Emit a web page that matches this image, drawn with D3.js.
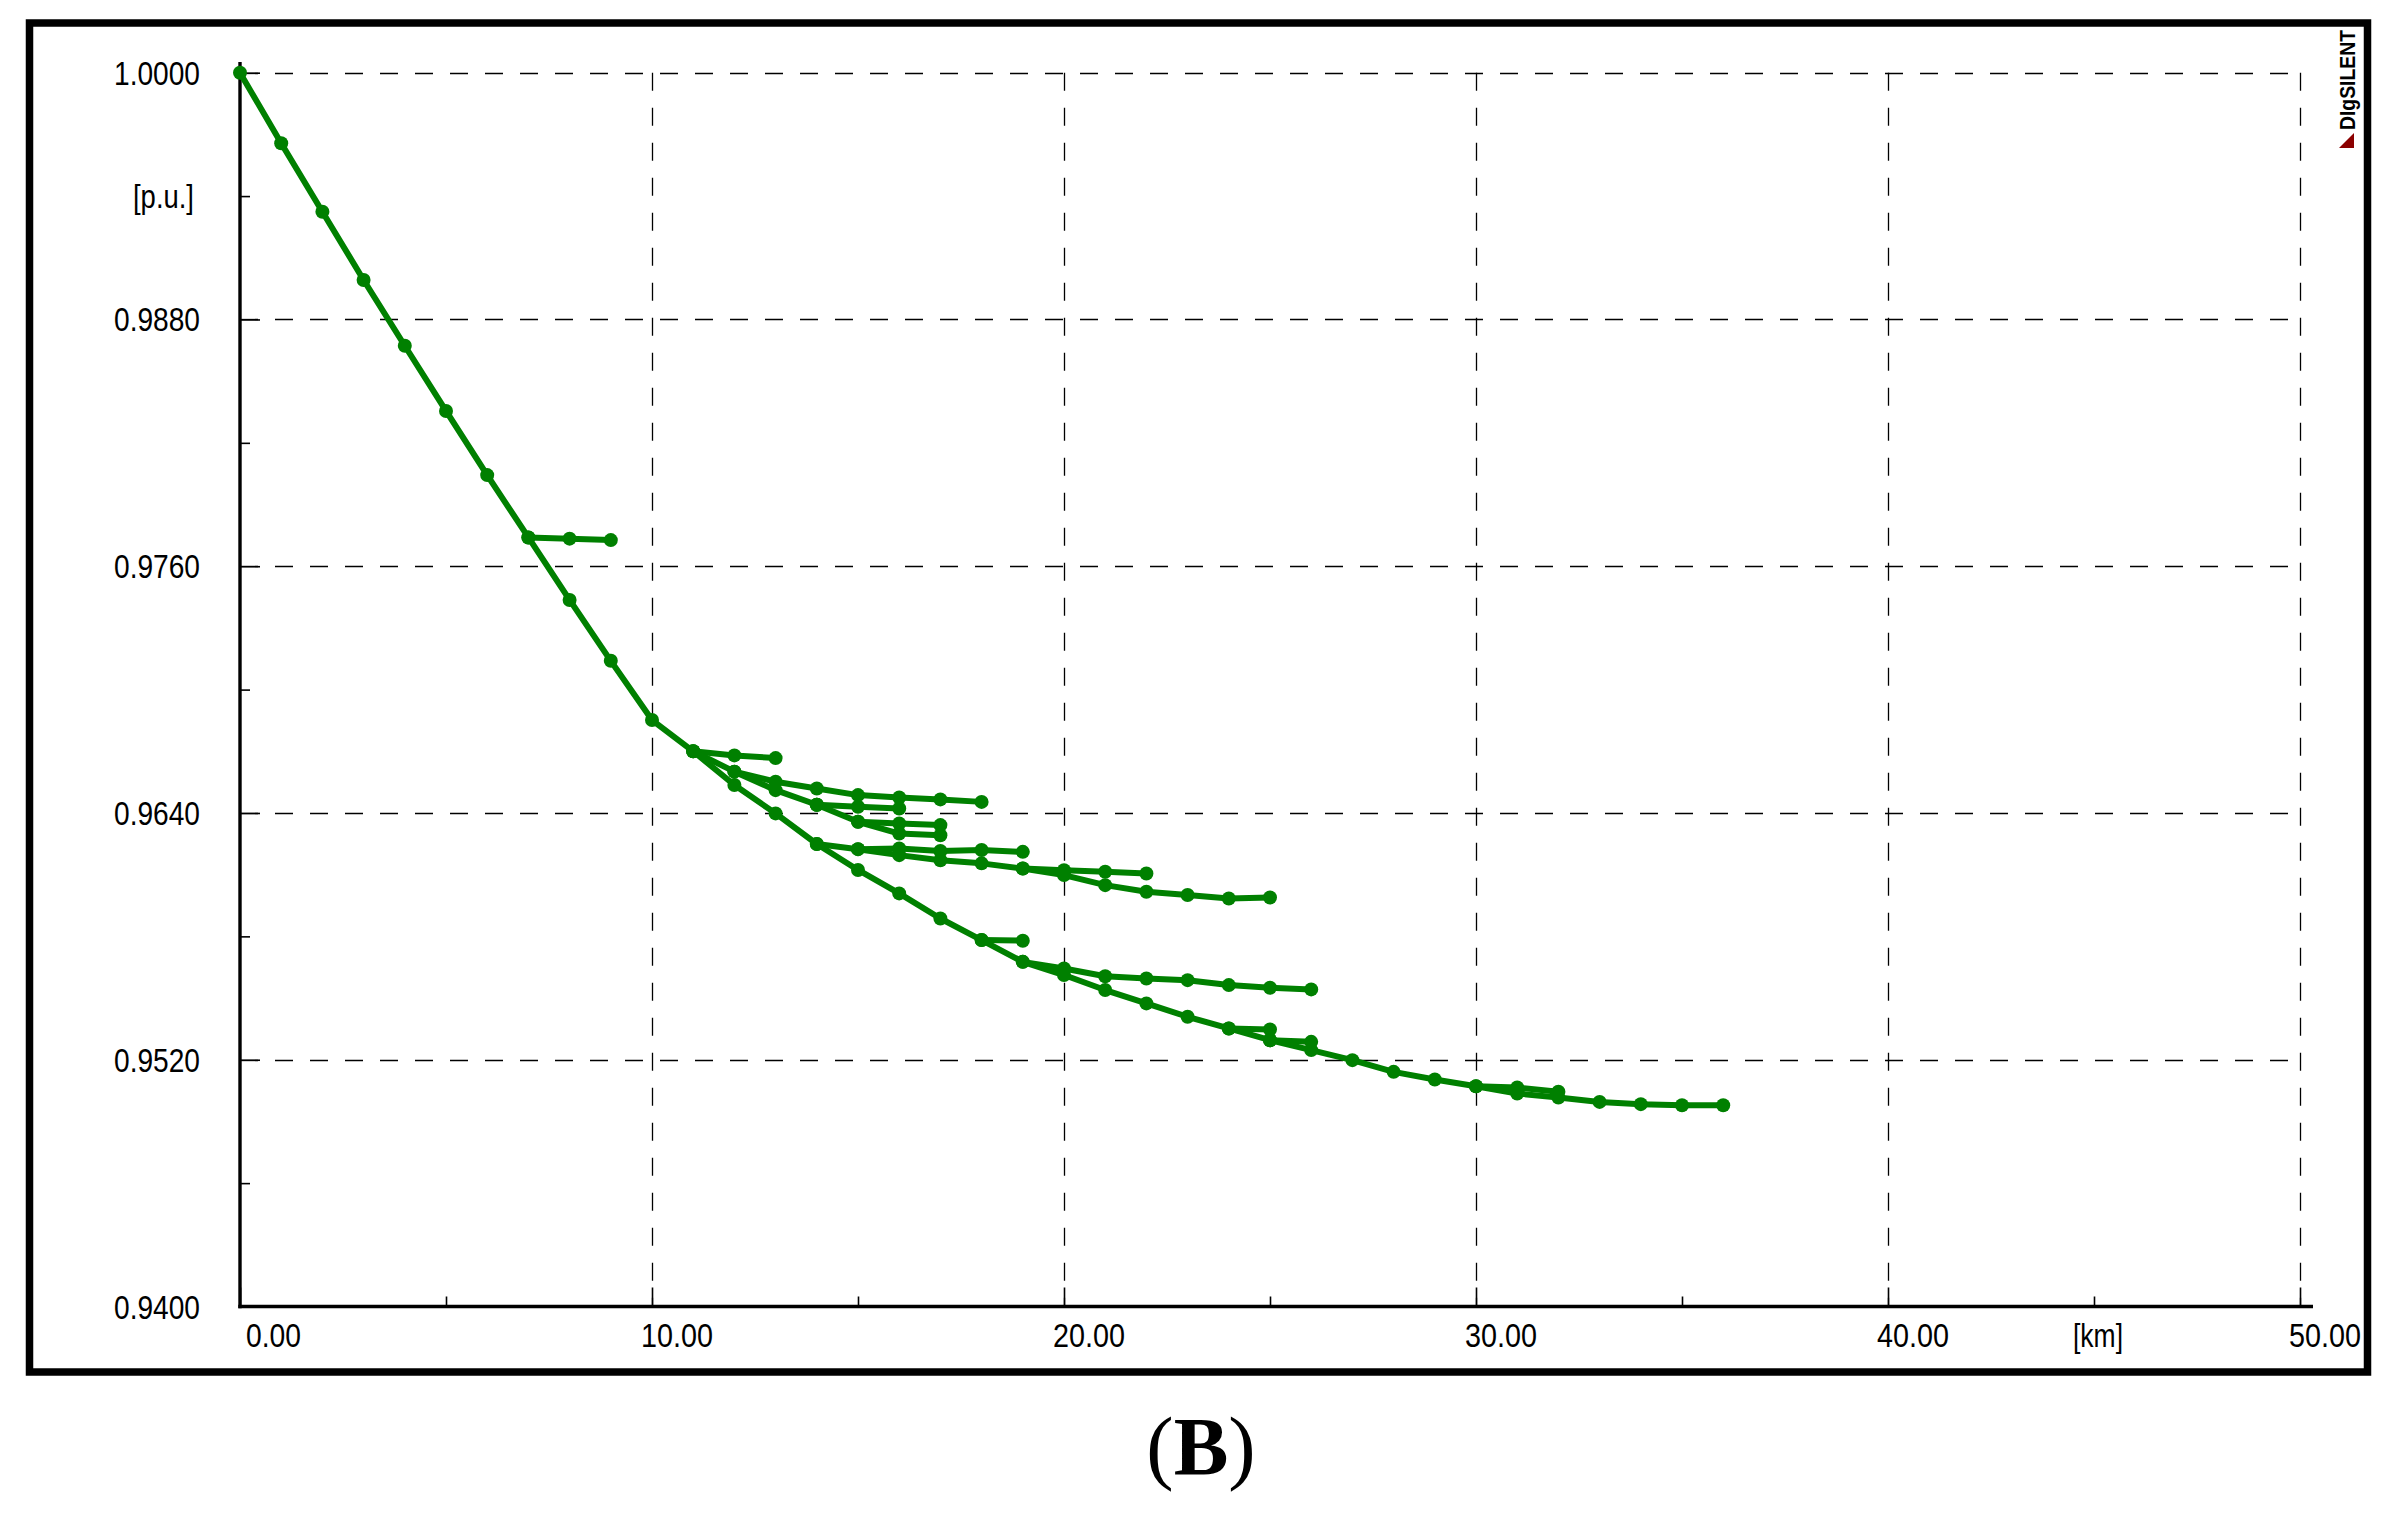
<!DOCTYPE html>
<html>
<head>
<meta charset="utf-8">
<script src="https://cdn.jsdelivr.net/npm/d3@7"></script>
<style>
  html, body { margin: 0; padding: 0; background: #ffffff; }
  svg { display: block; }
</style>
</head>
<body>
<svg id="chart" width="2393" height="1528"></svg>
<script>
// ---------------- DATA (distance [km], voltage [p.u.]) ----------------
const mainFeeder = [
  [0, 1.00000], [1, 0.99657], [2, 0.99324], [3, 0.98992], [4, 0.98672],
  [5, 0.98355], [6, 0.98043], [7, 0.97740], [8, 0.97436], [9, 0.97140],
  [10, 0.96852], [11, 0.96700], [12, 0.96536], [13, 0.96398], [14, 0.96249],
  [15, 0.96123], [16, 0.96009], [17, 0.95887], [18, 0.95782], [19, 0.95676],
  [20, 0.95612], [21, 0.95539], [22, 0.95474], [23, 0.95409], [24, 0.95352],
  [25, 0.95295], [26, 0.95247], [27, 0.95198], [28, 0.95141], [29, 0.95104],
  [30, 0.95071], [31, 0.95036], [32, 0.95016], [33, 0.94995], [34, 0.94984],
  [35, 0.94979], [36, 0.94979]
];
const branch7  = [[7, 0.97740], [8, 0.97734], [9, 0.97727]];
const branch11a = [[11, 0.96700], [12, 0.96680], [13, 0.96667]];
const branch11b = [[11, 0.96700], [12, 0.96601], [13, 0.96552], [14, 0.96519], [15, 0.96487],
                   [16, 0.96475], [17, 0.96466], [18, 0.96454]];
const branch12 = [[12, 0.96601], [13, 0.96511], [14, 0.96440]];
const branch14a = [[14, 0.96440], [15, 0.96430], [16, 0.96422]];
const branch14b = [[14, 0.96440], [15, 0.96357], [16, 0.96349], [17, 0.96341]];
const branch15a = [[15, 0.96357], [16, 0.96300], [17, 0.96292]];
const branch14c = [[14, 0.96249], [15, 0.96224], [16, 0.96227], [17, 0.96215], [18, 0.96220], [19, 0.96211]];
const branch15b = [[15, 0.96224], [16, 0.96195], [17, 0.96170], [18, 0.96155], [19, 0.96130],
                   [20, 0.96122], [21, 0.96114], [22, 0.96106]];
const branch19a = [[19, 0.96130], [20, 0.96098], [21, 0.96049], [22, 0.96017], [23, 0.96001],
                   [24, 0.95984], [25, 0.95989]];
const branch18 = [[18, 0.95782], [19, 0.95779]];
const branch19b = [[19, 0.95676], [20, 0.95644], [21, 0.95606], [22, 0.95595], [23, 0.95587],
                   [24, 0.95563], [25, 0.95550], [26, 0.95542]];
const branch24 = [[24, 0.95352], [25, 0.95347]];
const branch25 = [[25, 0.95295], [26, 0.95287]];
const branch30 = [[30, 0.95071], [31, 0.95065], [32, 0.95044]];

const allBranches = [mainFeeder, branch7, branch11a, branch11b, branch12, branch14a, branch14b,
  branch15a, branch14c, branch15b, branch19a, branch18, branch19b, branch24, branch25, branch30];

const yMajorTicks = [1.0000, 0.9880, 0.9760, 0.9640, 0.9520, 0.9400];
const yMinorTicks = [0.9940, 0.9820, 0.9700, 0.9580, 0.9460];
const yTickLabels = ["1.0000", "0.9880", "0.9760", "0.9640", "0.9520", "0.9400"];
const xMajorTicks = [0, 10, 20, 30, 40, 50];
const xMinorTicks = [5, 15, 25, 35, 45];
const xTickLabels = ["0.00", "10.00", "20.00", "30.00", "40.00", "50.00"];
const yUnit = "[p.u.]";
const xUnit = "[km]";
const caption = "B";
const brand = "DIgSILENT";

// ---------------- LAYOUT ----------------
const svg = d3.select("#chart");
const GREEN = "#008000";
const FONT = "'Liberation Sans', Arial, sans-serif";

const x = d3.scaleLinear().domain([0, 50]).range([240, 2300]);
const y = d3.scaleLinear().domain([0.94, 1.0]).range([1306.5, 72.7]);

// outer frame
svg.append("rect").attr("x", 29.5).attr("y", 23).attr("width", 2338).attr("height", 1349)
  .attr("fill", "#fff").attr("stroke", "#000").attr("stroke-width", 7.5);

// grid (dashed)
const grid = svg.append("g").attr("stroke", "#000").attr("stroke-width", 1.3)
  .attr("stroke-dasharray", "18,17").attr("fill", "none");
yMajorTicks.filter(v => v > 0.94).forEach(v => {
  grid.append("line").attr("x1", x(0)).attr("x2", x(50))
    .attr("y1", Math.round(y(v)) + 0.5).attr("y2", Math.round(y(v)) + 0.5);
});
xMajorTicks.filter(k => k > 0).forEach(k => {
  grid.append("line").attr("y1", y(1.0)).attr("y2", y(0.94))
    .attr("x1", Math.round(x(k)) + 0.5).attr("x2", Math.round(x(k)) + 0.5);
});

// axes via d3 axis generators
const yAxisMajor = d3.axisRight(y).tickValues(yMajorTicks).tickSize(20).tickFormat("");
const yAxisMinor = d3.axisRight(y).tickValues(yMinorTicks).tickSize(10).tickFormat("");
const xAxisMajor = d3.axisTop(x).tickValues(xMajorTicks).tickSize(19).tickFormat("");
const xAxisMinor = d3.axisTop(x).tickValues(xMinorTicks).tickSize(10).tickFormat("");

function styleAxis(g) {
  g.select(".domain").remove();
  g.selectAll(".tick line").attr("stroke", "#000").attr("stroke-width", 1.6);
}
svg.append("g").attr("transform", `translate(${x(0)},0)`).call(yAxisMajor).call(styleAxis);
svg.append("g").attr("transform", `translate(${x(0)},0)`).call(yAxisMinor).call(styleAxis);
svg.append("g").attr("transform", `translate(0,${y(0.94)})`).call(xAxisMajor).call(styleAxis);
svg.append("g").attr("transform", `translate(0,${y(0.94)})`).call(xAxisMinor).call(styleAxis);

// axis lines
svg.append("line").attr("x1", x(0)).attr("x2", x(0)).attr("y1", 62).attr("y2", y(0.94) + 1.7)
  .attr("stroke", "#000").attr("stroke-width", 3.4);
svg.append("line").attr("x1", x(0) - 1.7).attr("x2", 2313).attr("y1", y(0.94)).attr("y2", y(0.94))
  .attr("stroke", "#000").attr("stroke-width", 3.4);

// tick labels
function lenFor(s) { return s.length <= 4 ? 55 : (s.length === 5 ? 72 : 86); }
yMajorTicks.forEach((v, i) => {
  svg.append("text").attr("x", 200).attr("y", y(v) + 12)
    .attr("text-anchor", "end").attr("font-family", FONT).attr("font-size", 34)
    .attr("textLength", lenFor(yTickLabels[i])).attr("lengthAdjust", "spacingAndGlyphs")
    .attr("fill", "#000").text(yTickLabels[i]);
});
svg.append("text").attr("x", 194).attr("y", y(yMinorTicks[0]) + 12)
  .attr("text-anchor", "end").attr("font-family", FONT).attr("font-size", 34)
  .attr("textLength", 61).attr("lengthAdjust", "spacingAndGlyphs").text(yUnit);

xMajorTicks.forEach((k, i) => {
  svg.append("text").attr("x", x(k) + 61).attr("y", 1347)
    .attr("text-anchor", "end").attr("font-family", FONT).attr("font-size", 34)
    .attr("textLength", lenFor(xTickLabels[i])).attr("lengthAdjust", "spacingAndGlyphs")
    .attr("fill", "#000").text(xTickLabels[i]);
});
svg.append("text").attr("x", x(45) + 4).attr("y", 1347)
  .attr("text-anchor", "middle").attr("font-family", FONT).attr("font-size", 34)
  .attr("textLength", 50).attr("lengthAdjust", "spacingAndGlyphs").text(xUnit);

// brand label
svg.append("text").attr("transform", "translate(2355,130) rotate(-90)")
  .attr("font-family", FONT).attr("font-weight", "bold").attr("font-size", 22)
  .attr("textLength", 100).attr("lengthAdjust", "spacingAndGlyphs").attr("fill", "#000").text(brand);
svg.append("path").attr("d", "M2354,133 L2354,148 L2339,148 Z").attr("fill", "#8b0000");

// data lines
const line = d3.line().x(d => x(d[0])).y(d => y(d[1]));
const dataG = svg.append("g");
allBranches.forEach(br => {
  dataG.append("path").datum(br).attr("d", line).attr("fill", "none")
    .attr("stroke", GREEN).attr("stroke-width", 6).attr("stroke-linejoin", "round").attr("stroke-linecap", "round");
});
allBranches.forEach(br => {
  dataG.selectAll(null).data(br).enter().append("circle")
    .attr("cx", d => x(d[0])).attr("cy", d => y(d[1])).attr("r", 7).attr("fill", GREEN);
});

// caption
const cap = svg.append("text").attr("x", 1201).attr("y", 1474).attr("text-anchor", "middle")
  .attr("font-family", "'Liberation Serif', 'Times New Roman', serif").attr("font-size", 82).attr("fill", "#000");
cap.append("tspan").text("(");
cap.append("tspan").attr("font-weight", "bold").text(caption);
cap.append("tspan").text(")");
</script>
</body>
</html>
